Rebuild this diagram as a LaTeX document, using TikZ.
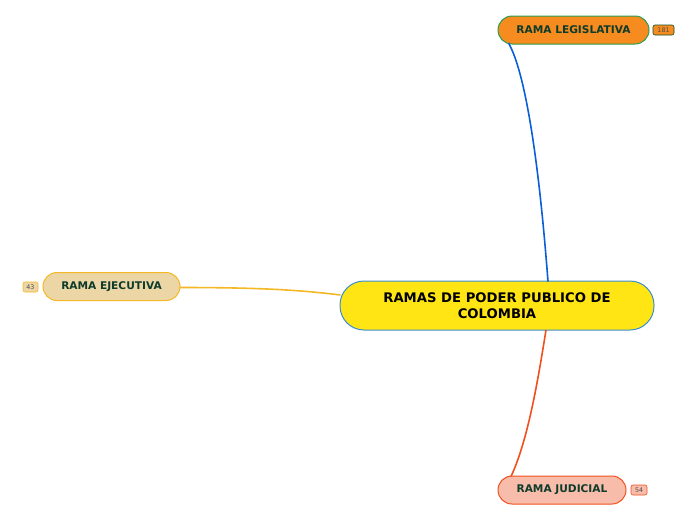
\documentclass[tikz,border=0pt]{standalone}
\usepackage{fontspec}
\setmainfont{DejaVu Sans}
\begin{document}
\begin{tikzpicture}[x=1pt,y=-1pt,
  topic/.style={rounded corners=14pt,line width=1pt,minimum height=28pt,inner sep=0pt,align=center,font=\bfseries\fontsize{10.6}{12}\selectfont,text=green!30!black!90},
  badge/.style={rounded corners=2pt,line width=0.6pt,minimum height=10pt,inner sep=0pt,font=\fontsize{6.3}{7}\selectfont},
  link/.style={line width=1.6pt}]
\definecolor{legfill}{HTML}{F68B1F}
\definecolor{legline}{HTML}{2A9D4E}
\definecolor{ejefill}{HTML}{EDD6A6}
\definecolor{ejeline}{HTML}{F4B826}
\definecolor{judfill}{HTML}{F8BDAA}
\definecolor{judline}{HTML}{F0501E}
\definecolor{cenfill}{HTML}{FFE514}
\definecolor{cenline}{HTML}{3A8ED0}
\definecolor{bluelink}{HTML}{0A5ED6}
\definecolor{txt}{HTML}{0E3B2A}
\useasboundingbox (0,0) rectangle (696,520);
\node[topic,draw=cenline,fill=cenfill,minimum width=314pt,minimum height=49pt,rounded corners=24pt,text=black,font=\bfseries\fontsize{13.2}{16}\selectfont] (c) at (497,305.5) {RAMAS DE PODER PUBLICO DE\\COLOMBIA};
\node[topic,draw=legline,fill=legfill,minimum width=151pt,text=txt] (leg) at (573.5,30) {RAMA LEGISLATIVA};
\node[topic,draw=ejeline,fill=ejefill,minimum width=137pt,text=txt] (eje) at (111.5,286.5) {RAMA EJECUTIVA};
\node[topic,draw=judline,fill=judfill,minimum width=128pt,text=txt] (jud) at (562,490) {RAMA JUDICIAL};
\node[badge,draw=legline!50!black,fill=legfill,minimum width=21pt,text=black!70] (b1) at (663.5,30) {181};
\node[badge,draw=ejeline,fill=ejefill,minimum width=15pt,text=black!70] (b2) at (30.5,287) {43};
\node[badge,draw=judline,fill=judfill,minimum width=16pt,text=black!70] (b3) at (639,490) {54};
\coordinate (c1) at (548,281.5);
\coordinate (l1) at (508.5,43);
\draw[link,bluelink] (c1) .. controls (538,150) and (524,70) .. (l1);
\coordinate (c2) at (340.5,295);
\coordinate (e1) at (180,287.5);
\draw[link,ejeline] (e1) .. controls (260,287.5) and (300,290) .. (c2);
\coordinate (c3) at (546,330);
\coordinate (j1) at (511,476.5);
\draw[link,judline] (c3) .. controls (538,380) and (528,440) .. (j1);
\end{tikzpicture}
\end{document}
